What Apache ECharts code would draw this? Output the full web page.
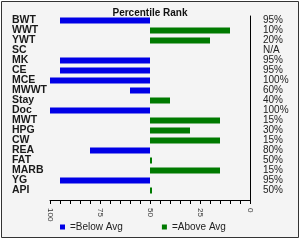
<!DOCTYPE html>
<html>
<head>
<meta charset="utf-8">
<script src="https://cdn.jsdelivr.net/npm/echarts@6/dist/echarts.min.js"></script>
<style>html,body{margin:0;padding:0;background:#fff}#c{width:300px;height:240px}</style>
</head>
<body>
<div id="c"></div>
<script>
var categories = ["BWT","WWT","YWT","SC","MK","CE","MCE","MWWT","Stay","Doc","MWT","HPG","CW","REA","FAT","MARB","YG","API"];
var percentiles = [95,10,20,null,95,95,100,60,40,100,15,30,15,80,50,15,95,50];
var pctLabels = ["95%","10%","20%","N/A","95%","95%","100%","60%","40%","100%","15%","30%","15%","80%","50%","15%","95%","50%"];
var avgValue = 50;

var baseData = [], belowData = [], aboveData = [];
percentiles.forEach(function(v){
  if (v === null) { baseData.push(null); belowData.push(null); aboveData.push(null); return; }
  if (v > avgValue) { baseData.push(avgValue); belowData.push(v - avgValue); aboveData.push(null); }
  else { baseData.push(v); belowData.push(null); aboveData.push(avgValue - v); }
});

var font = "Liberation Sans";
var chart = echarts.init(document.getElementById('c'), null, {renderer:'canvas'});
chart.setOption({
  animation: false,
  backgroundColor: '#ffffff',
  graphic: [{type:'rect', shape:{x:1.5,y:1.5,width:297,height:236}, style:{fill:'#f4f4f4', stroke:'#333', lineWidth:1}, z:-10, silent:true}],
  title: {text:'Percentile Rank', left:'center', top:3, textStyle:{fontFamily:font, fontWeight:'bold', fontSize:10, color:'#111'}},
  legend: {
    data: ['=Below Avg','=Above Avg'], left:60, top:222, padding:0, icon:'rect', itemWidth:5, itemHeight:5, itemGap:39,
    textStyle:{fontFamily:font, fontSize:10, color:'#222'}
  },
  grid: [
    {left:50, right:50, top:15.5, height:180},
    {left:50, right:50, top:16, height:184}
  ],
  xAxis: [
    {gridIndex:0, type:'value', inverse:true, min:0, max:100, show:false},
    {gridIndex:1, type:'value', inverse:true, min:0, max:100, interval:25,
      axisLine:{show:true, lineStyle:{color:'#000', width:1}},
      axisTick:{show:true, length:4, lineStyle:{color:'#000'}},
      minorTick:{show:true, splitNumber:5, length:4, lineStyle:{color:'#000'}},
      splitLine:{show:false},
      axisLabel:{rotate:-90, margin:8, fontFamily:font, fontSize:8, color:'#333'}
    }
  ],
  yAxis: [
    {gridIndex:0, type:'category', data:categories, inverse:true,
      axisLine:{show:false}, axisTick:{show:false},
      axisLabel:{interval:0, align:'left', margin:38, fontFamily:font, fontWeight:'bold', fontSize:10.5, color:'#1a1a1a'}},
    {gridIndex:0, type:'category', data:categories, inverse:true, position:'right',
      axisLine:{show:false}, axisTick:{show:false},
      axisLabel:{interval:0, align:'left', margin:13, fontFamily:font, fontSize:10, color:'#222',
        formatter:function(v, i){ return pctLabels[i]; }}},
    {gridIndex:1, type:'category', data:categories, inverse:true,
      axisLine:{show:true, lineStyle:{color:'#000', width:1}}, axisTick:{show:false}, axisLabel:{show:false}}
  ],
  series: [
    {name:'base', type:'bar', stack:'a', xAxisIndex:0, yAxisIndex:0, data:baseData, barWidth:6,
      itemStyle:{color:'transparent'}, silent:true},
    {name:'=Below Avg', type:'bar', stack:'a', xAxisIndex:0, yAxisIndex:0, data:belowData, barWidth:6,
      itemStyle:{color:'#0000e6'}},
    {name:'=Above Avg', type:'bar', stack:'a', xAxisIndex:0, yAxisIndex:0, data:aboveData, barWidth:6, barMinHeight:2,
      itemStyle:{color:'#007a00'}}
  ]
});
</script>
</body>
</html>
